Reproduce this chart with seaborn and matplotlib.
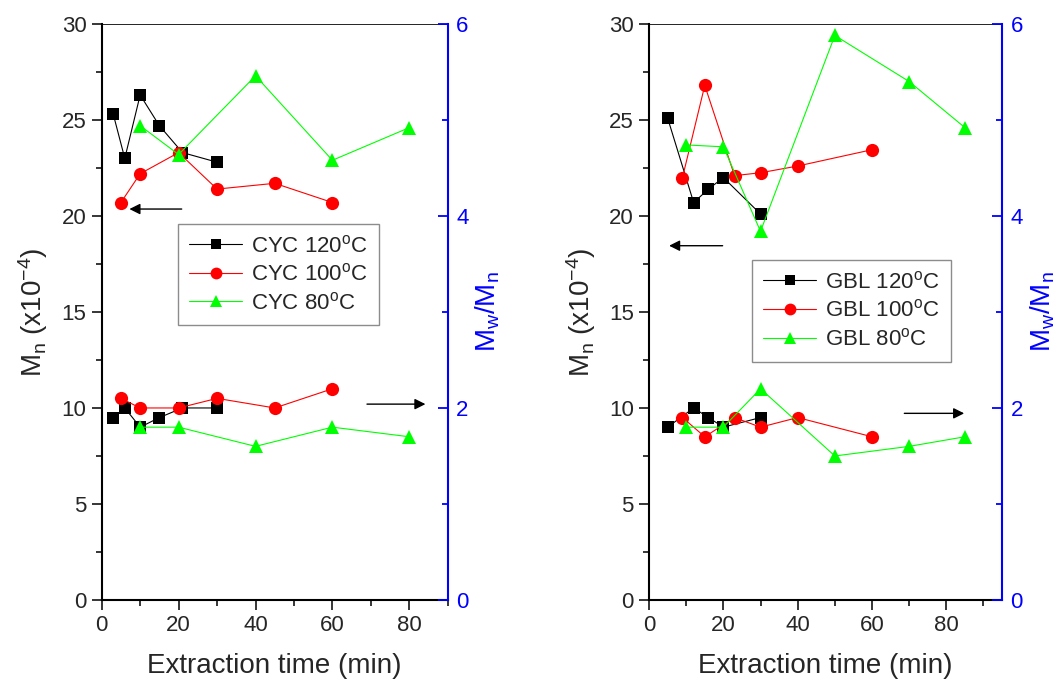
import pandas as pd
import seaborn as sns
import matplotlib.pyplot as plt
from matplotlib.ticker import MultipleLocator

# ---- data ----
# left panel: CYC
cyc_t120 = [3, 6, 10, 15, 21, 30]
cyc_mn120 = [25.3, 23.0, 26.3, 24.7, 23.3, 22.8]
cyc_pdi120 = [1.9, 2.0, 1.8, 1.9, 2.0, 2.0]

cyc_t100 = [5, 10, 20, 30, 45, 60]
cyc_mn100 = [20.7, 22.2, 23.3, 21.4, 21.7, 20.7]
cyc_pdi100 = [2.1, 2.0, 2.0, 2.1, 2.0, 2.2]

cyc_t80 = [10, 20, 40, 60, 80]
cyc_mn80 = [24.7, 23.2, 27.3, 22.9, 24.6]
cyc_pdi80 = [1.8, 1.8, 1.6, 1.8, 1.7]

# right panel: GBL
gbl_t120 = [5, 12, 16, 20, 30]
gbl_mn120 = [25.1, 20.7, 21.4, 22.0, 20.1]
gbl_pdi120 = [1.8, 2.0, 1.9, 1.8, 1.9]

gbl_t100 = [9, 15, 23, 30, 40, 60]
gbl_mn100 = [22.0, 26.8, 22.1, 22.25, 22.6, 23.45]
gbl_pdi100 = [1.9, 1.7, 1.9, 1.8, 1.9, 1.7]

gbl_t80 = [10, 20, 30, 50, 70, 85]
gbl_mn80 = [23.7, 23.6, 19.2, 29.4, 27.0, 24.6]
gbl_pdi80 = [1.8, 1.8, 2.2, 1.5, 1.6, 1.7]

temps = ['120', '100', '80']
colors = ['black', '#ff0000', '#00ff00']
markers = ['s', 'o', '^']
msizes = [8.5, 9.5, 10]

sns.set_style('ticks')
plt.rcParams['font.family'] = ['Liberation Sans', 'DejaVu Sans']
plt.rcParams['mathtext.fontset'] = 'custom'
plt.rcParams['mathtext.rm'] = 'Liberation Sans'
plt.rcParams['mathtext.it'] = 'Liberation Sans:italic'
plt.rcParams['mathtext.default'] = 'regular'

fig = plt.figure(figsize=(10.64, 6.86), dpi=100)
ax_l = fig.add_axes([0.0956, 0.1254, 0.3252, 0.8397])
ax_r = fig.add_axes([0.6100, 0.1254, 0.3318, 0.8397])


def draw_panel(ax, name, times, mns, pdis, xmax, legend_at, arrows):
    ax2 = ax.twinx()
    handles = []
    for t, mn, pdi, temp, c, m, ms in zip(times, mns, pdis, temps, colors, markers, msizes):
        sns.lineplot(x=t, y=mn, ax=ax, color=c, marker=m, markersize=ms,
                     markeredgecolor=c, markeredgewidth=0, lw=0.8, sort=False)
        sns.lineplot(x=t, y=pdi, ax=ax2, color=c, marker=m, markersize=ms,
                     markeredgecolor=c, markeredgewidth=0, lw=0.8, sort=False)
        handles.append(plt.Line2D([], [], color=c, marker=m, markersize=ms - 1,
                                  markeredgewidth=0, lw=0.8,
                                  label=f'{name} {temp}$^{{o}}$C'))

    ax.set_xlim(0, xmax)
    ax.set_ylim(0, 30)
    ax2.set_ylim(0, 6)
    ax.xaxis.set_major_locator(MultipleLocator(20))
    ax.xaxis.set_minor_locator(MultipleLocator(10))
    ax.yaxis.set_major_locator(MultipleLocator(5))
    ax.yaxis.set_minor_locator(MultipleLocator(2.5))
    ax2.yaxis.set_major_locator(MultipleLocator(2))
    ax2.yaxis.set_minor_locator(MultipleLocator(1))

    ax.tick_params(which='major', direction='out', length=7, width=1.3, labelsize=16,
                   top=False, right=False, pad=4)
    ax.tick_params(which='minor', direction='out', length=4, width=1.3,
                   top=False, right=False)
    ax2.tick_params(which='major', direction='in', length=7, width=1.3, labelsize=16,
                    colors='#0000ff', pad=6)
    ax2.tick_params(which='minor', direction='in', length=4, width=1.3, colors='#0000ff')

    for s in ['left', 'bottom']:
        ax.spines[s].set_linewidth(1.5)
        ax.spines[s].set_color('black')
    ax.spines['top'].set_linewidth(0.6)
    ax.spines['top'].set_color('black')
    ax.spines['right'].set_visible(False)
    for s in ['left', 'bottom', 'top']:
        ax2.spines[s].set_visible(False)
    ax2.spines['right'].set_color('#0000ff')
    ax2.spines['right'].set_linewidth(1.5)

    ax.set_xlabel('Extraction time (min)', fontsize=20, labelpad=12)
    ax.set_ylabel('M$_n$ (x10$^{-4}$)', fontsize=20, labelpad=8)
    ax2.set_ylabel('M$_w$/M$_n$', fontsize=20, color='#0000ff', labelpad=4)

    for (x0, x1, y) in arrows:
        ax.annotate('', xy=(x1, y), xytext=(x0, y),
                    arrowprops=dict(arrowstyle='-|>', color='black', lw=1,
                                    mutation_scale=16, shrinkA=0, shrinkB=0))

    leg = ax2.legend(handles=handles, loc='upper left', bbox_to_anchor=legend_at,
                     borderaxespad=0, fontsize=16, frameon=True, fancybox=False,
                     edgecolor='#707070', handlelength=2.4, handletextpad=0.4,
                     labelspacing=0.3, borderpad=0.5)
    leg.get_frame().set_linewidth(1.0)
    return ax2


draw_panel(ax_l, 'CYC',
           [cyc_t120, cyc_t100, cyc_t80],
           [cyc_mn120, cyc_mn100, cyc_mn80],
           [cyc_pdi120, cyc_pdi100, cyc_pdi80],
           90, (0.22, 0.653),
           [(20.8, 7.2, 20.36), (69, 84.2, 10.2)])

draw_panel(ax_r, 'GBL',
           [gbl_t120, gbl_t100, gbl_t80],
           [gbl_mn120, gbl_mn100, gbl_mn80],
           [gbl_pdi120, gbl_pdi100, gbl_pdi80],
           95, (0.291, 0.59),
           [(19.8, 5.4, 18.45), (68.7, 84.8, 9.72)])

fig.savefig('out.png', dpi=100)
